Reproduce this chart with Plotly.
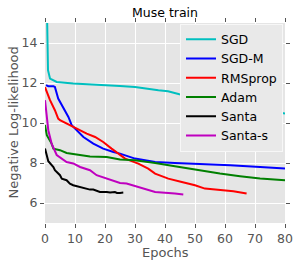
import plotly.graph_objects as go

# ---- data ----
sgd_x = [0.5, 1.0, 1.67, 3.9, 9.4, 15, 20, 25, 30, 34.4, 37.8, 41, 44.8, 55, 65, 72, 78, 80]
sgd_y = [17.0, 12.64, 12.22, 12.05, 11.97, 11.94, 11.9, 11.85, 11.8, 11.69, 11.64, 11.59, 11.44, 11.15, 10.9, 10.7, 10.52, 10.48]

sgdm_x = [0.33, 1.1, 2.8, 3.3, 4.4, 6.1, 7.8, 8.9, 10, 12.8, 16.1, 19.4, 22.8, 25, 30, 36.7, 43.3, 50, 53.3, 61.7, 71.7, 80]
sgdm_y = [11.89, 11.84, 11.84, 11.8, 11.22, 10.72, 10.3, 9.89, 9.72, 9.3, 8.97, 8.72, 8.55, 8.47, 8.22, 8.05, 8.0, 7.97, 7.92, 7.89, 7.8, 7.72]

rms_x = [0, 1.67, 3.3, 4.4, 5, 7.2, 9.4, 11.7, 13.9, 16.7, 19.4, 22.2, 25, 26.7, 31.1, 34.4, 36.7, 41.1, 45.6, 50, 53.3, 58.3, 62.8, 67.2]
rms_y = [11.79, 11.14, 10.64, 10.22, 10.14, 9.97, 9.8, 9.64, 9.47, 9.3, 9.05, 8.72, 8.39, 8.22, 7.97, 7.72, 7.47, 7.22, 7.05, 6.89, 6.72, 6.64, 6.59, 6.47]

adam_x = [0, 0.6, 2.2, 2.8, 5, 7.2, 9.4, 12.8, 15, 20.6, 23.9, 25, 30, 35, 36.7, 43.3, 50, 52.8, 58.3, 65, 71.7, 80]
adam_y = [9.9, 9.39, 8.97, 8.72, 8.64, 8.5, 8.45, 8.36, 8.33, 8.3, 8.22, 8.17, 8.14, 8.05, 8.0, 7.84, 7.67, 7.59, 7.47, 7.34, 7.22, 7.14]

santa_x = [0, 1.1, 2.8, 3.3, 5, 5.6, 7.2, 8.3, 9.4, 11.7, 12.8, 15, 16.1, 18.3, 20.6, 21.7, 23.3, 24, 25, 26.1]
santa_y = [8.72, 8.09, 7.8, 7.64, 7.39, 7.22, 7.14, 6.97, 6.89, 6.8, 6.77, 6.67, 6.67, 6.55, 6.55, 6.52, 6.55, 6.5, 6.5, 6.52]

santas_x = [0, 0.6, 1.1, 2.2, 3.3, 3.9, 7.2, 9.4, 11.7, 15, 17.2, 21.7, 25, 27.2, 31.7, 35, 36.7, 43.3, 46.1]
santas_y = [11.14, 10.47, 9.64, 8.97, 8.64, 8.4, 8.05, 7.98, 7.8, 7.64, 7.39, 7.17, 7.0, 6.97, 6.77, 6.64, 6.55, 6.47, 6.42]

series = [
    ("SGD", sgd_x, sgd_y, "#00BFBF"),
    ("SGD-M", sgdm_x, sgdm_y, "#0000FF"),
    ("RMSprop", rms_x, rms_y, "#FF0000"),
    ("Adam", adam_x, adam_y, "#008000"),
    ("Santa", santa_x, santa_y, "#000000"),
    ("Santa-s", santas_x, santas_y, "#BF00BF"),
]

x_ticks = [0, 10, 20, 30, 40, 50, 60, 70, 80]
y_ticks = [6, 8, 10, 12, 14]

FONT = "DejaVu Sans"
W, H = 299, 267
L, R, T, B = 45, 14, 23, 44
PW, PH = W - L - R, H - T - B

fig = go.Figure()
for name, xs, ys, col in series:
    fig.add_trace(go.Scatter(x=xs, y=ys, mode="lines", name=name,
                             line=dict(color=col, width=2)))

axis_common = dict(
    showgrid=True, gridcolor="white", gridwidth=1,
    zeroline=False, showline=False,
    ticks="outside", ticklen=4, tickcolor="#555555", tickwidth=1,
    mirror="ticks", automargin=False,
    tickfont=dict(family=FONT, size=12.5, color="#555555"),
)

fig.update_layout(
    width=W, height=H,
    margin=dict(l=L, r=R, t=T, b=B, autoexpand=False),
    paper_bgcolor="white", plot_bgcolor="#E5E5E5",
    title=dict(text="Muse train", xref="paper", x=0.5, xanchor="center",
               yref="container", y=1 - 13 / H, yanchor="middle",
               font=dict(family=FONT, size=12.5, color="black")),
    showlegend=True,
    legend=dict(x=(180 - L) / PW, y=1 - (23.5 - T) / PH, xanchor="left", yanchor="top",
                bgcolor="#E9E9E9", bordercolor="#F7F7F7", borderwidth=1,
                font=dict(family=FONT, size=12.5, color="black"),
                itemwidth=30),
    xaxis=dict(range=[0, 80], tickvals=x_ticks, **axis_common),
    yaxis=dict(range=[5, 15], tickvals=y_ticks, **axis_common),
    annotations=[
        dict(text="Epochs", xref="paper", yref="paper", x=0.5, y=(T + PH - 252.7) / PH,
             xanchor="center", yanchor="middle", showarrow=False,
             font=dict(family=FONT, size=13, color="#555555")),
        dict(text="Negative Log-likelihood", xref="paper", yref="paper",
             x=(12.5 - L) / PW, y=0.5, textangle=-90,
             xanchor="center", yanchor="middle", showarrow=False,
             font=dict(family=FONT, size=13, color="#555555")),
    ],
)

fig.write_html("out.html", config={"displayModeBar": False},
               post_script="document.body.style.margin='0';document.body.style.overflow='hidden';")
